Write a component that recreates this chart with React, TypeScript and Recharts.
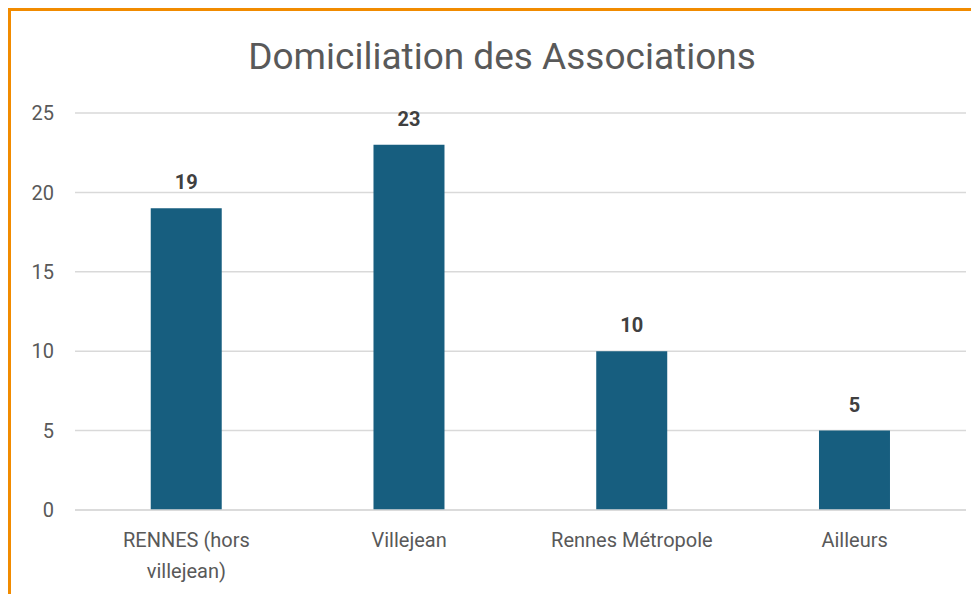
import { Bar, BarChart, CartesianGrid, LabelList, XAxis, YAxis } from "recharts";

const categories = ["RENNES (hors villejean)", "Villejean", "Rennes Métropole", "Ailleurs"];
const counts = [19, 23, 10, 5];
const yTicks = [0, 5, 10, 15, 20, 25];

const data = categories.map((name, i) => ({ name, value: counts[i] }));

const FONT = "Roboto, 'Open Sans', sans-serif";

// wrap a label into lines no wider than maxWidth, like Excel does
const wrapLabel = (label: string, maxWidth: number, font: string) => {
  const ctx = document.createElement("canvas").getContext("2d");
  if (!ctx) return [label];
  ctx.font = font;
  const lines: string[] = [];
  let current = "";
  label.split(" ").forEach((word) => {
    const test = current ? current + " " + word : word;
    if (current && ctx.measureText(test).width > maxWidth) {
      lines.push(current);
      current = word;
    } else {
      current = test;
    }
  });
  if (current) lines.push(current);
  return lines;
};

const CategoryTick = (props: any) => {
  const { x, y, payload } = props;
  const lines = wrapLabel(payload.value, 195, `20px ${FONT}`);
  return (
    <text x={x} y={y} textAnchor="middle" fill="#595959" fontSize={20} fontFamily={FONT}>
      {lines.map((line, i) => (
        <tspan key={i} x={x} dy={i === 0 ? "0.71em" : 31}>
          {line}
        </tspan>
      ))}
    </text>
  );
};

const App = () => {
  return (
    <div
      style={{
        position: "relative",
        width: 968,
        height: 583,
        borderTop: "3px solid #F18B00",
        borderLeft: "3px solid #F18B00",
        background: "#fff",
      }}
    >
      <div
        style={{
          position: "absolute",
          left: 0,
          top: 25,
          width: 982,
          textAlign: "center",
          fontFamily: FONT,
          fontSize: 37,
          lineHeight: "42px",
          color: "#595959",
        }}
      >
        Domiciliation des Associations
      </div>
      <BarChart
        data={data}
        width={968}
        height={583}
        margin={{ top: 102, right: 13, left: 0, bottom: 54 }}
        barCategoryGap="34%"
      >
        <CartesianGrid vertical={false} stroke="#D9D9D9" strokeWidth={1.5} />
        <XAxis
          dataKey="name"
          height={30}
          axisLine={{ stroke: "#D9D9D9", strokeWidth: 1.5 }}
          tickLine={false}
          tick={<CategoryTick />}
          tickMargin={17}
          interval={0}
        />
        <YAxis
          width={64}
          domain={[0, 25]}
          ticks={yTicks}
          axisLine={false}
          tickLine={false}
          tickMargin={15}
          tick={{ fill: "#595959", fontSize: 20, fontFamily: FONT }}
        />
        <Bar dataKey="value" fill="#175E7F" isAnimationActive={false}>
          <LabelList
            dataKey="value"
            position="top"
            offset={19}
            fill="#404040"
            fontSize={20}
            fontWeight="bold"
            fontFamily={FONT}
          />
        </Bar>
      </BarChart>
    </div>
  );
};

export default App;
